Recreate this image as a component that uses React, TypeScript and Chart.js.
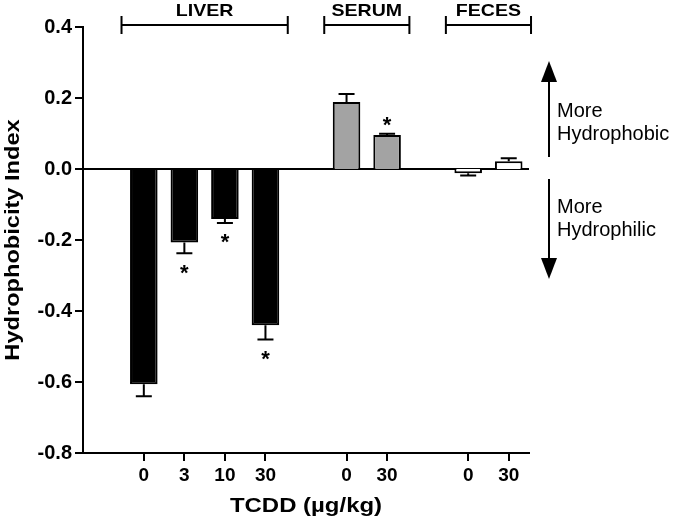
import React, { useEffect, useRef } from 'react';
import { Chart, registerables } from 'chart.js';

Chart.register(...registerables);

// ---- data ----
const categories = ['', '0', '3', '10', '30', '', '0', '30', '', '0', '30'];
const values: (number | null)[] = [null, -0.606, -0.207, -0.141, -0.44, null, 0.189, 0.096, null, -0.012, 0.022];
const errors: (number | null)[] = [null, 0.034, 0.03, 0.011, 0.04, null, 0.022, 0.003, null, 0.006, 0.008];
const significant = [false, false, true, true, true, false, false, true, false, false, false];
const groupNames = ['LIVER', 'SERUM', 'FECES'];
const groupOf = [-1, 0, 0, 0, 0, -1, 1, 1, -1, 2, 2];
const yMin = -0.8;
const yMax = 0.4;
const yStep = 0.2;
const yTitle = 'Hydrophobicity Index';
const xTitle = 'TCDD (µg/kg)';
const upArrow = [0.034, 0.304];
const downArrow = [-0.028, -0.31];
const upText = ['More', 'Hydrophobic'];
const downText = ['More', 'Hydrophilic'];

// ---- styles ----
const FONT = '"Liberation Sans", Arial, sans-serif';
const groupFill = ['#000000', '#a3a3a3', '#ffffff'];

function stretched(ctx: CanvasRenderingContext2D, text: string, cx: number, cy: number, sx: number, rot = 0) {
  ctx.save();
  ctx.translate(cx, cy);
  ctx.rotate(rot);
  ctx.scale(sx, 1);
  ctx.textAlign = 'center';
  ctx.textBaseline = 'middle';
  ctx.fillText(text, 0, 0);
  ctx.restore();
}

function arrow(ctx: CanvasRenderingContext2D, x: number, yFrom: number, yTip: number) {
  const dir = yTip < yFrom ? -1 : 1;
  const base = yTip - dir * 21;
  ctx.beginPath();
  ctx.moveTo(x, yFrom);
  ctx.lineTo(x, base);
  ctx.stroke();
  ctx.beginPath();
  ctx.moveTo(x, yTip);
  ctx.lineTo(x - 8, base);
  ctx.lineTo(x + 8, base);
  ctx.closePath();
  ctx.fill();
}

const annotPlugin = {
  id: 'annot',
  afterDatasetsDraw(chart: any) {
    const { ctx, scales } = chart;
    const x = scales.x;
    const y = scales.y;
    ctx.save();
    ctx.strokeStyle = '#000';
    ctx.fillStyle = '#000';
    ctx.lineWidth = 2;
    values.forEach((v, i) => {
      if (v == null) return;
      const e = errors[i] || 0;
      const s = v >= 0 ? 1 : -1;
      const px = x.getPixelForValue(i);
      const y0 = y.getPixelForValue(v);
      const y1 = y.getPixelForValue(v + s * e);
      ctx.beginPath();
      ctx.moveTo(px, y0);
      ctx.lineTo(px, y1);
      ctx.moveTo(px - 8, y1);
      ctx.lineTo(px + 8, y1);
      ctx.stroke();
      if (significant[i]) {
        ctx.font = `bold 22px ${FONT}`;
        ctx.textAlign = 'center';
        ctx.textBaseline = 'alphabetic';
        const yc = y1 + (s < 0 ? 14 : -14);
        ctx.fillText('*', px, yc + 12.5);
      }
    });
    ctx.restore();
  },
  afterDraw(chart: any) {
    const { ctx, scales, chartArea } = chart;
    const x = scales.x;
    const y = scales.y;
    const slot = x.getPixelForValue(1) - x.getPixelForValue(0);
    ctx.save();
    ctx.strokeStyle = '#000';
    ctx.fillStyle = '#000';
    ctx.lineWidth = 2;
    groupNames.forEach((name, g) => {
      const idx = groupOf.map((gg, i) => (gg === g ? i : -1)).filter((i) => i >= 0);
      const xs = x.getPixelForValue(idx[0]) - 0.55 * slot;
      const xe = x.getPixelForValue(idx[idx.length - 1]) + 0.55 * slot;
      const by = 25;
      ctx.beginPath();
      ctx.moveTo(xs, by);
      ctx.lineTo(xe, by);
      ctx.moveTo(xs, by - 9);
      ctx.lineTo(xs, by + 9);
      ctx.moveTo(xe, by - 9);
      ctx.lineTo(xe, by + 9);
      ctx.stroke();
      ctx.font = `bold 17px ${FONT}`;
      stretched(ctx, name, (xs + xe) / 2, 11, 1.15);
    });
    ctx.font = `bold 20px ${FONT}`;
    stretched(ctx, yTitle, 13, (chartArea.top + chartArea.bottom) / 2, 1.18, -Math.PI / 2);
    ctx.font = `bold 21px ${FONT}`;
    stretched(ctx, xTitle, (chartArea.left + chartArea.right) / 2, 506, 1.14);
    const ax = chartArea.right + 20;
    arrow(ctx, ax, y.getPixelForValue(upArrow[0]), y.getPixelForValue(upArrow[1]));
    arrow(ctx, ax, y.getPixelForValue(downArrow[0]), y.getPixelForValue(downArrow[1]));
    ctx.font = `20px ${FONT}`;
    ctx.textAlign = 'left';
    ctx.textBaseline = 'alphabetic';
    ctx.fillText(upText[0], ax + 8, 117);
    ctx.fillText(upText[1], ax + 8, 140);
    ctx.fillText(downText[0], ax + 8, 213);
    ctx.fillText(downText[1], ax + 8, 236);
    ctx.restore();
  },
};

export default function App() {
  const ref = useRef<HTMLCanvasElement>(null);
  useEffect(() => {
    if (!ref.current) return;
    const colors = groupOf.map((g) => (g >= 0 ? groupFill[g] : '#000'));
    const chart = new Chart(ref.current, {
      type: 'bar',
      data: {
        labels: categories,
        datasets: [
          {
            data: values as any,
            backgroundColor: colors,
            borderColor: '#000',
            borderWidth: 2,
            barPercentage: 0.68,
            categoryPercentage: 1,
          },
        ],
      },
      plugins: [annotPlugin],
      options: {
        responsive: false,
        animation: false,
        layout: { padding: { top: 27, right: 146, left: 0, bottom: 0 } },
        plugins: { legend: { display: false }, tooltip: { enabled: false } },
        scales: {
          x: {
            type: 'category',
            offset: true,
            afterFit: (s: any) => {
              s.height = 70;
            },
            border: { display: true, color: '#000', width: 2 },
            grid: {
              offset: false,
              drawOnChartArea: false,
              tickLength: 8,
              lineWidth: 2,
              color: (c: any) => (categories[c.index] ? '#000' : 'rgba(0,0,0,0)'),
              tickColor: (c: any) => (categories[c.index] ? '#000' : 'rgba(0,0,0,0)'),
            },
            ticks: {
              color: '#000',
              font: { family: FONT, size: 19, weight: 'bold' },
              padding: 3,
              autoSkip: false,
              maxRotation: 0,
            },
          },
          y: {
            min: yMin,
            max: yMax,
            afterFit: (s: any) => {
              s.width = 83;
            },
            border: { display: true, color: '#000', width: 2 },
            grid: {
              drawOnChartArea: true,
              lineWidth: 2,
              tickLength: 8,
              color: (c: any) => (c.tick && Math.abs(c.tick.value) < 1e-9 ? '#000' : 'rgba(0,0,0,0)'),
              tickColor: '#000',
            },
            ticks: {
              stepSize: yStep,
              color: '#000',
              padding: 3,
              font: { family: FONT, size: 20, weight: 'bold' },
              callback: (v: any) => Number(v).toFixed(1),
            },
          },
        },
      },
    });
    return () => chart.destroy();
  }, []);
  return (
    <div style={{ position: 'absolute', left: 0, top: 0, width: 675, height: 523, background: '#fff' }}>
      <canvas ref={ref} width={675} height={523} />
    </div>
  );
}
